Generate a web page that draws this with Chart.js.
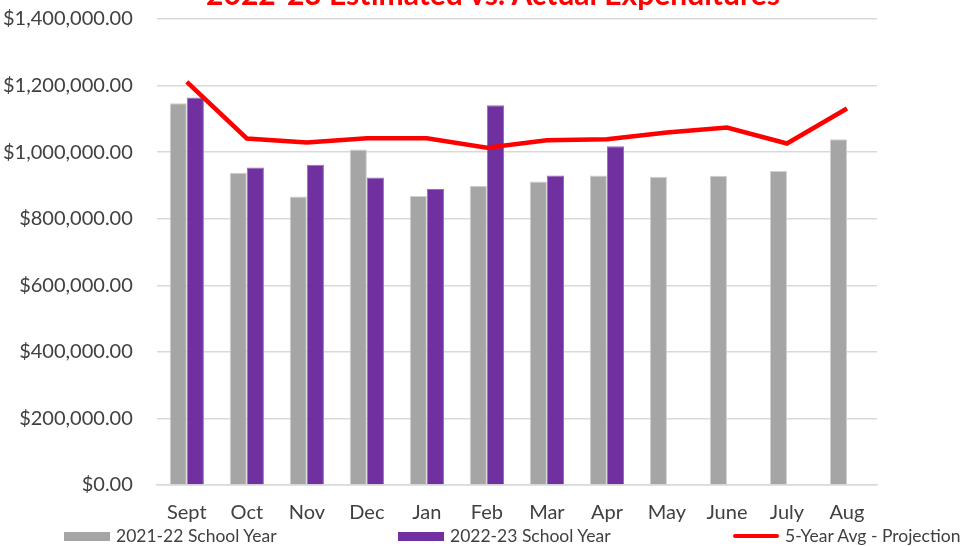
<!DOCTYPE html>
<html>
<head>
<meta charset="utf-8">
<script src="https://cdn.jsdelivr.net/npm/chart.js@4.4.1/dist/chart.umd.min.js"></script>
<style>
  html, body { margin: 0; padding: 0; background: #fff; overflow: hidden; width: 972px; height: 546px; }
  #wrap { position: absolute; left: 0; top: 0; width: 972px; height: 546px; }
  #titulo { position: absolute; left: 0; top: -22px; width: 986px; text-align: center; font-family: Lato, sans-serif; font-weight: bold; font-size: 30px; line-height: 30px; color: #ff0000; white-space: nowrap; }
  #leyenda { position: absolute; left: 0; top: 526px; width: 972px; height: 20px; font-family: Lato, sans-serif; font-size: 17.5px; color: #404040; }
  .item { position: absolute; top: 0; height: 20px; line-height: 20px; white-space: nowrap; }
  .caja { position: absolute; top: 6px; height: 9px; width: 46px; }
  .texto { position: absolute; left: 52px; top: 0; }
</style>
</head>
<body>
<div id="wrap"><canvas id="grafico"></canvas></div>
<div id="titulo">2022-23 Estimated vs. Actual Expenditures</div>
<div id="leyenda"></div>
<script>
const meses = ['Sept', 'Oct', 'Nov', 'Dec', 'Jan', 'Feb', 'Mar', 'Apr', 'May', 'June', 'July', 'Aug']
const anio2122 = [1147000, 938000, 867000, 1008000, 868000, 899000, 912000, 930000, 926000, 929000, 943000, 1039000]
const anio2223 = [1164000, 954000, 962000, 924000, 889000, 1141000, 930000, 1018000, null, null, null, null]
const promedio5 = [1211000, 1041000, 1029000, 1042000, 1042000, 1013000, 1036000, 1039000, 1059000, 1074000, 1026000, 1131000]
const ticksY = [0, 200000, 400000, 600000, 800000, 1000000, 1200000, 1400000]

const fuente = 'Lato, "Liberation Sans", sans-serif'
const contenedor = document.getElementById('grafico')

// posiciones de la leyenda (izquierda de cada muestra)
const posLeyenda = [64, 398, 733]

const dibujar = () => {
  const grafico = new Chart(contenedor, {
    type: 'bar',
    data: {
      labels: meses,
      datasets: [
        {
          label: '2021-22 School Year',
          data: anio2122,
          backgroundColor: '#a5a5a5',
          borderColor: '#d0d0d0',
          borderWidth: 1,
          order: 1,
        },
        {
          label: '2022-23 School Year',
          data: anio2223,
          backgroundColor: '#7030a0',
          borderColor: '#9a6cc0',
          borderWidth: 1,
          order: 1,
        },
        {
          type: 'line',
          label: '5-Year Avg - Projection',
          data: promedio5,
          borderColor: '#ff0000',
          backgroundColor: '#ff0000',
          borderWidth: 4.5,
          pointRadius: 0,
          tension: 0,
          order: 0,
        },
      ],
    },
    options: {
      responsive: true,
      maintainAspectRatio: false,
      animation: false,
      layout: {
        padding: { left: -21, right: 95, top: 0, bottom: 5 },
      },
      datasets: {
        bar: { categoryPercentage: 0.57, barPercentage: 1 },
      },
      scales: {
        x: {
          grid: { display: false, drawTicks: false },
          border: { display: true, color: '#d9d9d9', width: 1.5 },
          ticks: { color: '#404040', font: { family: fuente, size: 20 }, padding: 16 },
        },
        y: {
          min: 0,
          max: 1400000,
          afterBuildTicks: (eje) => { eje.ticks = ticksY.map((v) => ({ value: v })) },
          // el margen superior lo pone el padding de las etiquetas; se ajusta aqui
          afterFit: (eje) => { eje.paddingTop = 19 },
          grid: { color: '#d9d9d9', lineWidth: 1.5, drawTicks: false },
          border: { display: false },
          ticks: {
            color: '#404040',
            font: { family: fuente, size: 20 },
            padding: 24,
            callback: (v) => '$' + Number(v).toLocaleString('en-US', { minimumFractionDigits: 2, maximumFractionDigits: 2 }),
          },
        },
      },
      plugins: {
        legend: { display: false },
        tooltip: { enabled: false },
      },
    },
  })

  // leyenda en html, a partir de los datasets del grafico
  const leyenda = document.getElementById('leyenda')
  grafico.data.datasets.forEach((ds, i) => {
    const item = document.createElement('div')
    item.className = 'item'
    item.style.left = posLeyenda[i] + 'px'
    const caja = document.createElement('div')
    caja.className = 'caja'
    caja.style.background = ds.backgroundColor
    if (ds.type === 'line') {
      caja.style.top = '8px'
      caja.style.height = '4px'
      caja.style.borderRadius = '2px'
    }
    const texto = document.createElement('span')
    texto.className = 'texto'
    texto.textContent = ds.label
    item.appendChild(caja)
    item.appendChild(texto)
    leyenda.appendChild(item)
  })
}

document.fonts.load('20px Lato').then(() => document.fonts.load('bold 30px Lato')).then(dibujar, dibujar)
</script>
</body>
</html>
